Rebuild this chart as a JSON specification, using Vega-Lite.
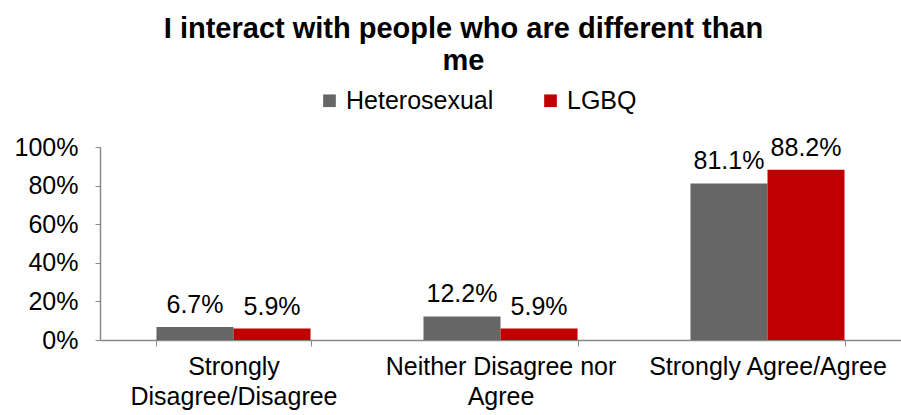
{
  "$schema": "https://vega.github.io/schema/vega-lite/v6.json",
  "width": 801,
  "height": 193,
  "autosize": {"type": "none"},
  "padding": {"left": 100, "top": 147, "right": 0, "bottom": 75},
  "background": "white",
  "config": {
    "font": "Liberation Sans",
    "view": {"stroke": null}
  },
  "title": {
    "text": ["I interact with people who are different than", "me"],
    "fontSize": 29,
    "fontWeight": "bold",
    "font": "Liberation Sans",
    "color": "black",
    "lineHeight": 32,
    "anchor": "middle",
    "dx": -37,
    "offset": 12
  },
  "data": {
    "values": [
      {"response": "Strongly Disagree/Disagree", "group": "Heterosexual", "pct": 0.067},
      {"response": "Strongly Disagree/Disagree", "group": "LGBQ", "pct": 0.059},
      {"response": "Neither Disagree nor Agree", "group": "Heterosexual", "pct": 0.122},
      {"response": "Neither Disagree nor Agree", "group": "LGBQ", "pct": 0.059},
      {"response": "Strongly Agree/Agree", "group": "Heterosexual", "pct": 0.811},
      {"response": "Strongly Agree/Agree", "group": "LGBQ", "pct": 0.882}
    ]
  },
  "encoding": {
    "x": {
      "field": "response",
      "type": "nominal",
      "sort": ["Strongly Disagree/Disagree", "Neither Disagree nor Agree", "Strongly Agree/Agree"],
      "scale": {"paddingInner": 0.423, "paddingOuter": 0.2115},
      "axis": {
        "title": null,
        "labelAngle": 0,
        "labelFontSize": 25,
        "labelColor": "black",
        "labelLineHeight": 30,
        "labelPadding": 8,
        "labelExpr": "datum.label == 'Strongly Disagree/Disagree' ? ['Strongly', 'Disagree/Disagree'] : datum.label == 'Neither Disagree nor Agree' ? ['Neither Disagree nor', 'Agree'] : datum.label",
        "tickBand": "extent",
        "tickSize": 6,
        "tickColor": "#888888",
        "domainColor": "#888888",
        "domainWidth": 1.5,
        "labelLimit": 400
      }
    },
    "xOffset": {"field": "group", "type": "nominal", "scale": {"paddingInner": 0}},
    "y": {
      "field": "pct",
      "type": "quantitative",
      "scale": {"domain": [0, 1]},
      "axis": {
        "title": null,
        "format": ".0%",
        "values": [0, 0.2, 0.4, 0.6, 0.8, 1],
        "grid": false,
        "labelFontSize": 25,
        "labelColor": "black",
        "tickColor": "#888888",
        "domainColor": "#888888",
        "domainWidth": 1.5,
        "tickSize": 5,
        "labelPadding": 17
      }
    }
  },
  "layer": [
    {
      "mark": {"type": "bar"},
      "encoding": {
        "color": {
          "field": "group",
          "type": "nominal",
          "scale": {"domain": ["Heterosexual", "LGBQ"], "range": ["#666666", "#C00000"]},
          "legend": {
            "title": null,
            "orient": "none",
            "legendX": 217,
            "legendY": -59,
            "direction": "horizontal",
            "symbolType": "square",
            "symbolSize": 160,
            "symbolStrokeWidth": 0,
            "labelFontSize": 25,
            "labelColor": "black",
            "columnPadding": 44,
            "labelOffset": 4
          }
        }
      }
    },
    {
      "mark": {"type": "text", "baseline": "alphabetic", "dy": -14, "fontSize": 25, "color": "black"},
      "encoding": {
        "text": {"field": "pct", "type": "quantitative", "format": ".1%"}
      }
    }
  ]
}
